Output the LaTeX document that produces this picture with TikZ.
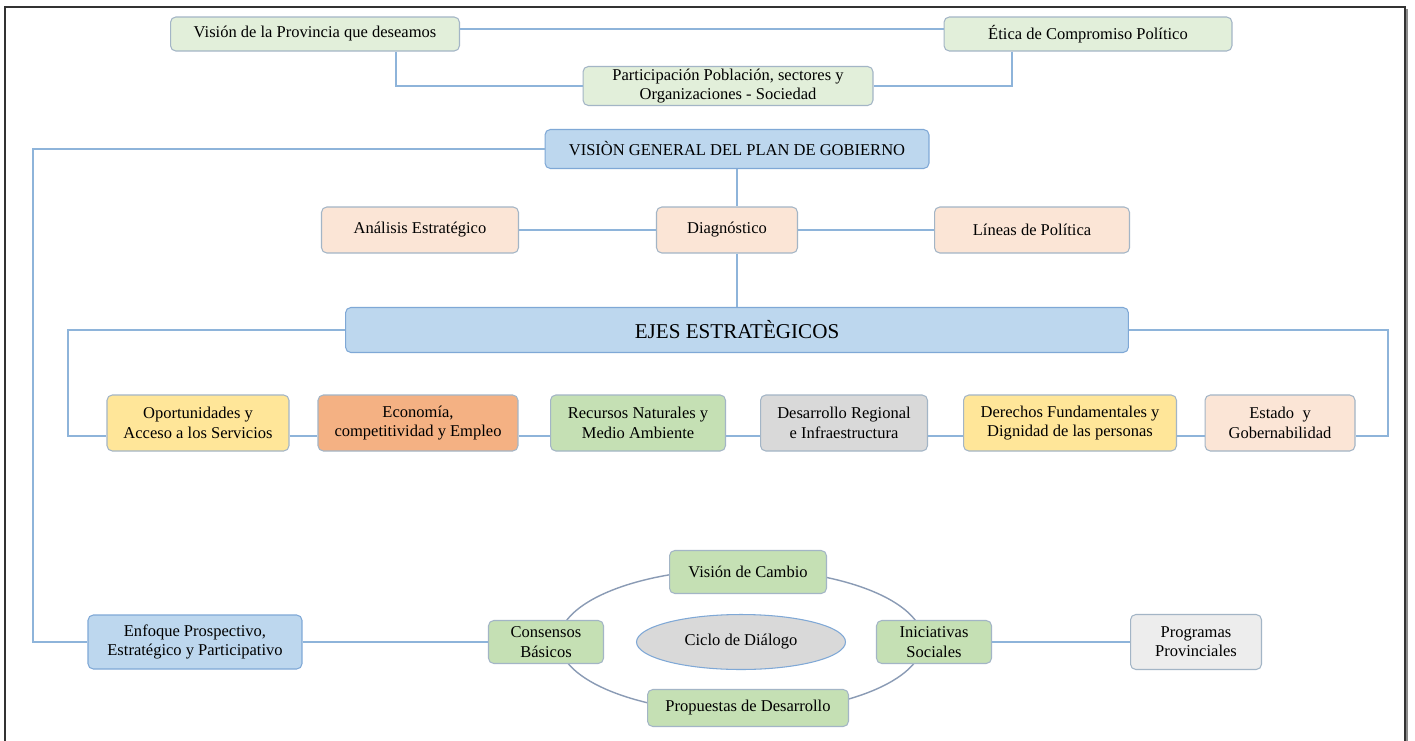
\documentclass[tikz,border=0pt]{standalone}
\usepackage{fontspec}
\setmainfont{Liberation Serif}
\usetikzlibrary{shapes.geometric}

\definecolor{linkc}{HTML}{8EB4DA}
\definecolor{cyclec}{HTML}{8A9BB5}
\definecolor{boxline}{HTML}{A3B5C6}
\definecolor{blueline}{HTML}{7FA8D6}
\definecolor{palegreen}{HTML}{E2EFDA}
\definecolor{bluefill}{HTML}{BDD7EE}
\definecolor{peach}{HTML}{FBE5D6}
\definecolor{yellowfill}{HTML}{FFE699}
\definecolor{orangefill}{HTML}{F4B183}
\definecolor{greenfill}{HTML}{C5E0B4}
\definecolor{greyfill}{HTML}{D9D9D9}
\definecolor{lightfill}{HTML}{EDEDED}

\begin{document}
\begin{tikzpicture}[
    x=0.02cm, y=-0.02cm,
    box/.style={
        draw=boxline,
        line width=0.6pt,
        rounded corners=3pt,
        align=center,
        inner sep=1pt,
        font=\fontsize{9.4}{11}\selectfont,
    },
    bluebox/.style={box, draw=blueline, fill=bluefill},
    link/.style={draw=linkc, line width=0.7pt},
]
\useasboundingbox (0,0) rectangle (1415,740);
\fill[white] (0,0) rectangle (1415,740);
% frame
\draw[line width=1pt, black!80] (5,745) -- (5,7) -- (1405,7) -- (1405,745);
\draw[line width=1.2pt, black!45] (1407,9) -- (1407,745);

% top level
\node[box, fill=palegreen, minimum width=5.78cm, minimum height=0.68cm] (vprov) at (315,34) {Visión de la Provincia que deseamos};
\node[box, fill=palegreen, minimum width=5.76cm, minimum height=0.68cm] (etica) at (1088,34) {Ética de Compromiso Político};
\node[box, fill=palegreen, minimum width=5.8cm, minimum height=0.78cm] (partic) at (728,86) {Participación Población, sectores y\\Organizaciones - Sociedad};
\node[bluebox, minimum width=7.68cm, minimum height=0.78cm] (visiongen) at (737,149) {VISIÒN GENERAL DEL PLAN DE GOBIERNO};

\draw[link] ([yshift=0.1cm]vprov.east) -- ([yshift=0.1cm]etica.west);
\draw[link] ([xshift=1.62cm]vprov.south) |- (partic.west);
\draw[link] ([xshift=-1.52cm]etica.south) |- (partic.east);

% diagnostico
\node[box, fill=peach, minimum width=3.94cm, minimum height=0.92cm] (analisis) at (420,230) {Análisis Estratégico};
\node[box, fill=peach, minimum width=2.82cm, minimum height=0.92cm] (diag) at (727,230) {Diagnóstico};
\node[box, fill=peach, minimum width=3.9cm, minimum height=0.92cm] (lineas) at (1032,230) {Líneas de Política};
\node[bluebox, minimum width=15.66cm, minimum height=0.9cm, font=\fontsize{12}{14}\selectfont] (ejes) at (737,330) {EJES ESTRATÈGICOS};

\draw[link] (visiongen.south) -- (visiongen.south |- diag.north);
\draw[link] (visiongen.south |- diag.south) -- (visiongen.south |- ejes.north);
\draw[link] (analisis) -- (diag);
\draw[link] (diag) -- (lineas);

% ejes
\node[box, fill=yellowfill, minimum width=3.64cm, minimum height=1.12cm] (opor) at (198,423) {Oportunidades y\\Acceso a los Servicios};
\node[box, fill=orangefill, minimum width=4.0cm, minimum height=1.12cm] (econ) at (418,423) {Economía,\\competitividad y Empleo};
\node[box, fill=greenfill, minimum width=3.5cm, minimum height=1.12cm] (recur) at (638,423) {Recursos Naturales y\\Medio Ambiente};
\node[box, fill=greyfill, minimum width=3.34cm, minimum height=1.12cm] (desar) at (844,423) {Desarrollo Regional\\e Infraestructura};
\node[box, fill=yellowfill, minimum width=4.26cm, minimum height=1.12cm] (derech) at (1070,423) {Derechos Fundamentales y\\Dignidad de las personas};
\node[box, fill=peach, minimum width=3.0cm, minimum height=1.12cm] (estado) at (1280,423) {Estado\ \ y\\Gobernabilidad};

\coordinate (railE) at (68,0);
\coordinate (railW) at (1388,0);
\draw[link] (ejes.west) -- (ejes.west -| railE) |- ([yshift=-0.26cm]opor.west);
\draw[link] (ejes.east) -- (ejes.east -| railW) |- ([yshift=-0.26cm]estado.east);
\foreach \a/\b in {opor/econ, econ/recur, recur/desar, desar/derech, derech/estado}
    \draw[link] ([yshift=-0.26cm]\a.east) -- ([yshift=-0.26cm]\b.west);

% ciclo de dialogo
\draw[cyclec, line width=0.8pt] (741,641) ellipse [x radius=3.64cm, y radius=1.44cm];
\node[box, fill=bluefill, minimum width=4.28cm, minimum height=1.08cm, draw=blueline] (enfoque) at (195,642) {Enfoque Prospectivo,\\Estratégico y Participativo};
\node[box, fill=greenfill, minimum width=2.3cm, minimum height=0.86cm] (consen) at (546,642) {Consensos\\Básicos};
\node[ellipse, draw=blueline, fill=greyfill, line width=0.6pt, minimum width=4.18cm, minimum height=1.1cm, font=\fontsize{9.4}{11}\selectfont] (ciclo) at (741,642) {Ciclo de Diálogo};
\node[box, fill=greenfill, minimum width=3.14cm, minimum height=0.86cm] (vcambio) at (748,572) {Visión de Cambio};
\node[box, fill=greenfill, minimum width=2.3cm, minimum height=0.86cm] (inic) at (934,642) {Iniciativas\\Sociales};
\node[box, fill=greenfill, minimum width=4.02cm, minimum height=0.74cm] (propu) at (748,708) {Propuestas de Desarrollo};
\node[box, fill=lightfill, minimum width=2.62cm, minimum height=1.1cm] (progr) at (1196,642) {Programas\\Provinciales};

\coordinate (railL) at (33,0);
\draw[link] (visiongen.west) -- (visiongen.west -| railL) |- (enfoque.west);
\draw[link] (enfoque) -- (consen);
\draw[link] (inic) -- (progr);
\end{tikzpicture}
\end{document}
